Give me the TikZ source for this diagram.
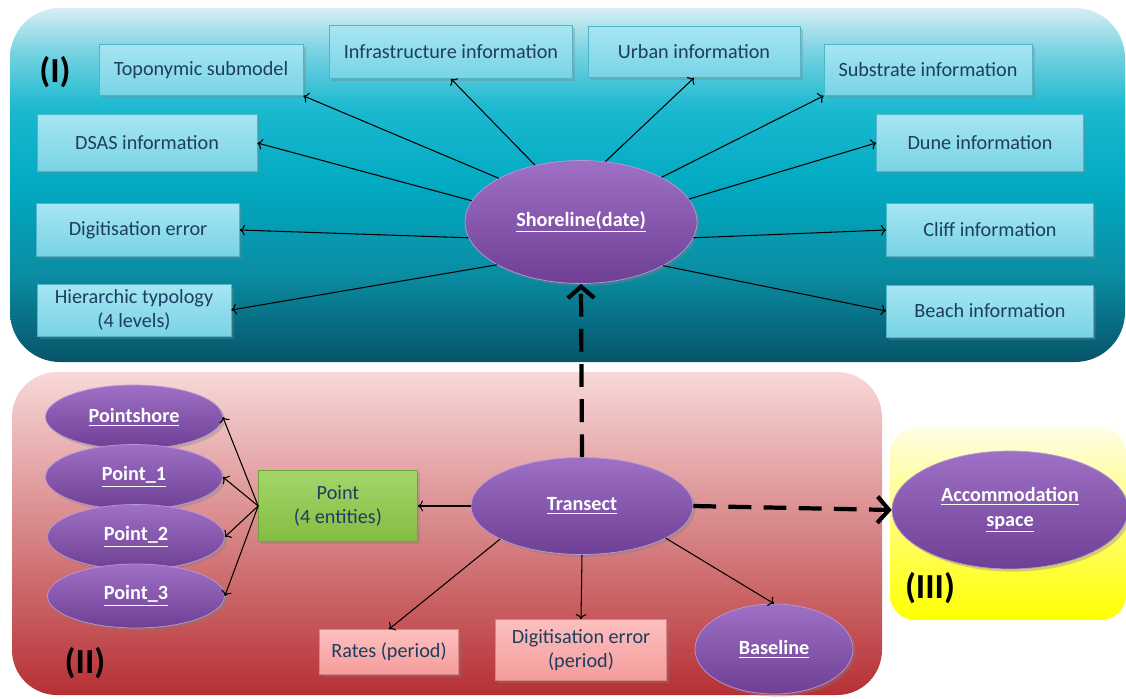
\documentclass[tikz,border=0pt]{standalone}
\usepackage{fontspec}
\setmainfont{Carlito}
\usetikzlibrary{arrows, arrows.meta, shapes, shadows, positioning}

\definecolor{boxtext}{HTML}{1F3D5E}
\definecolor{cyantop}{HTML}{A6E6F2}
\definecolor{cyanbot}{HTML}{78D3E6}
\definecolor{cyanedge}{HTML}{4FB6CA}
\definecolor{purptop}{HTML}{9E70C6}
\definecolor{purpbot}{HTML}{6E3F94}
\definecolor{purpedge}{HTML}{B898D8}
\definecolor{greentop}{HTML}{A4D56A}
\definecolor{greenbot}{HTML}{84BD42}
\definecolor{greenedge}{HTML}{6EA536}
\definecolor{pinktop}{HTML}{FBC0BF}
\definecolor{pinkbot}{HTML}{F59C9B}
\definecolor{pinkedge}{HTML}{DD8282}
\definecolor{seaA}{HTML}{075468}
\definecolor{seaB}{HTML}{0A8DA3}
\definecolor{seaC}{HTML}{01AAC2}
\definecolor{seaD}{HTML}{1CB9D0}
\definecolor{seaE}{HTML}{7AD3E2}
\definecolor{seaF}{HTML}{D6EEF3}
\pgfdeclareverticalshading{seashade}{100bp}{color(0bp)=(seaA); color(25bp)=(seaA); color(37.5bp)=(seaB); color(50bp)=(seaC); color(61bp)=(seaD); color(69bp)=(seaE); color(75bp)=(seaF); color(100bp)=(seaF)}

\tikzset{
  infobox/.style={rectangle, draw=cyanedge, top color=cyantop, bottom color=cyanbot,
    text=boxtext, font=\fontsize{11.5}{14}\selectfont, align=center, inner sep=2pt,
    drop shadow={opacity=0.35, shadow xshift=1.5pt, shadow yshift=-1.5pt}},
  pointbox/.style={infobox, draw=greenedge, top color=greentop, bottom color=greenbot},
  ratebox/.style={infobox, draw=pinkedge, top color=pinktop, bottom color=pinkbot},
  entity/.style={ellipse, draw=purpedge, top color=purptop, bottom color=purpbot,
    text=white, font=\bfseries\fontsize{11.5}{14}\selectfont, align=center, inner sep=0pt,
    drop shadow={opacity=0.35, shadow xshift=1.5pt, shadow yshift=-1.5pt}},
  link/.style={draw, line width=0.6pt, ->},
  bigdash/.style={draw, line width=2.4pt, dash pattern=on 13pt off 7pt, -{Straight Barb[length=6.5pt, width=15pt]}},
  panellabel/.style={font=\bfseries\fontsize{20}{22}\selectfont}
}

\begin{document}
\begin{tikzpicture}[x=0.02cm, y=-0.02cm]
\useasboundingbox (0,0) rectangle (1126,699);

% panels
\shade[shading=seashade, rounded corners=1cm] (10,8) rectangle (1125,362);
\shade[top color={rgb,255:red,248;green,216;blue,216}, middle color={rgb,255:red,234;green,150;blue,150}, bottom color={rgb,255:red,182;green,48;blue,52}, rounded corners=0.9cm] (12,372) rectangle (882,695);
\shade[top color={rgb,255:red,255;green,253;blue,228}, middle color={rgb,255:red,255;green,255;blue,120}, bottom color={rgb,255:red,255;green,255;blue,0}, rounded corners=0.5cm] (890,428) rectangle (1126,620);

\node[panellabel] (lblI) at (55,72) {(I)};
\node[panellabel] (lblII) at (85,663) {(II)};
\node[panellabel] (lblIII) at (930,588) {(III)};

% (I) shoreline
\node[infobox, minimum width=4.08cm, minimum height=1.02cm] (topo) at (201,70) {Toponymic submodel};
\node[infobox, minimum width=4.86cm, minimum height=1.06cm] (infra) at (451,52) {Infrastructure information};
\node[infobox, minimum width=4.24cm, minimum height=1.02cm] (urban) at (694,52) {Urban information};
\node[infobox, minimum width=4.16cm, minimum height=1.02cm] (substr) at (928,70) {Substrate information};
\node[infobox, minimum width=4.4cm, minimum height=1.14cm] (dsas) at (147,143) {DSAS information};
\node[infobox, minimum width=4.14cm, minimum height=1.14cm] (dune) at (980,143) {Dune information};
\node[infobox, minimum width=4.06cm, minimum height=1.06cm] (digit) at (138,230) {Digitisation error};
\node[infobox, minimum width=4.14cm, minimum height=1.06cm] (cliff) at (990,230) {Cliff information};
\node[infobox, minimum width=3.88cm, minimum height=1.04cm] (hier) at (134,310) {Hierarchic typology\\(4 levels)};
\node[infobox, minimum width=4.14cm, minimum height=1.04cm] (beach) at (990,311) {Beach information};
\node[entity, minimum width=4.64cm, minimum height=2.46cm] (shore) at (581,222) {\underline{Shoreline(date)}};

\draw [link] (shore.152) -- (topo.south east);
\draw [link] (shore.129) -- (infra.south);
\draw [link] (shore.68) -- (urban.south);
\draw [link] (shore.29) -- (substr.south west);
\draw [link] (shore.12) -- (dune.west);
\draw [link] (shore.-8) -- (cliff.west);
\draw [link] (shore.-28) -- (beach.west);
\draw [link] (shore.169) -- (dsas.east);
\draw [link] (shore.188) -- (digit.east);
\draw [link] (shore.207) -- (hier.east);

% (II) transect
\node[entity, minimum width=3.54cm, minimum height=1.28cm] (pshore) at (134,417) {\underline{Pointshore}};
\node[entity, minimum width=3.54cm, minimum height=1.3cm] (point1) at (134,477) {\underline{Point\_1}};
\node[entity, minimum width=3.54cm, minimum height=1.3cm] (point2) at (136,537) {\underline{Point\_2}};
\node[entity, minimum width=3.54cm, minimum height=1.28cm] (point3) at (136,596) {\underline{Point\_3}};
\node[pointbox, minimum width=3.18cm, minimum height=1.42cm] (pbox) at (338,506) {Point\\(4 entities)};
\node[entity, minimum width=4.44cm, minimum height=1.94cm] (transect) at (582,506) {\underline{Transect}};
\node[ratebox, minimum width=2.78cm, minimum height=0.9cm] (rates) at (389,652) {Rates (period)};
\node[ratebox, minimum width=3.42cm, minimum height=1.22cm] (digitp) at (581,650) {Digitisation error\\(period)};
\node[entity, minimum width=3.16cm, minimum height=1.8cm] (baseline) at (774,649) {\underline{Baseline}};

\draw [link] (pbox.west) -- (pshore.east);
\draw [link] (pbox.west) -- (point1.east);
\draw [link] (pbox.west) -- (point2.east);
\draw [link] (pbox.west) -- (point3.east);
\draw [link] (transect.west) -- (pbox.east);
\draw [link] (transect.202) -- (rates.north);
\draw [link] (transect.south) -- (digitp.north);
\draw [link] (transect.-21) -- (baseline.north);

% (III) accommodation space
\node[entity, minimum width=4.72cm, minimum height=2.36cm] (accom) at (1010,510) {\underline{Accommodation}\\\underline{space}};

\draw [bigdash] (transect.north) -- (shore.south);
\draw [bigdash] (transect.east) -- (accom.west);
\end{tikzpicture}
\end{document}
